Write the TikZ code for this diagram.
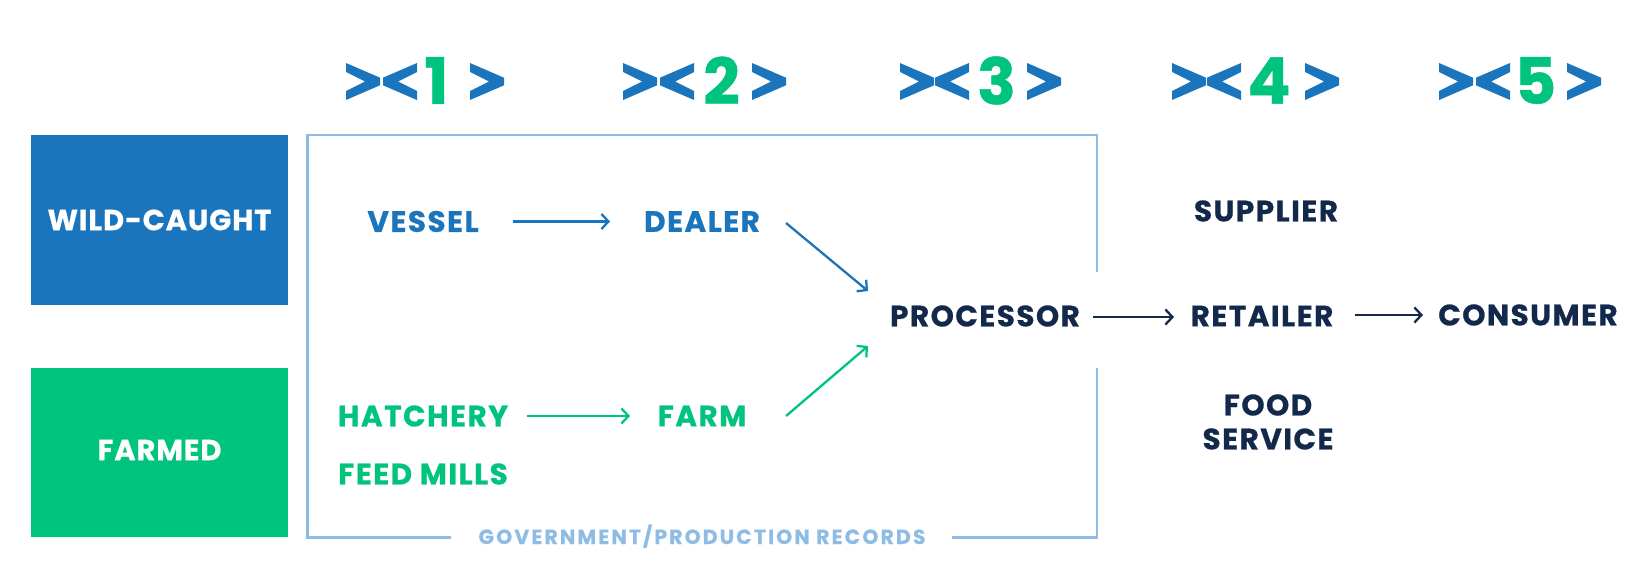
\documentclass[tikz,border=0pt]{standalone}
\usepackage{fontspec}
\setmainfont{Poppins}
\usetikzlibrary{arrows.meta}
\definecolor{wblue}{HTML}{1B75BC}
\definecolor{fgreen}{HTML}{00C37D}
\definecolor{navy}{HTML}{13294B}
\definecolor{framec}{HTML}{8FBCE4}
\newcommand{\gtchev}[2]{\fill[wblue] ({#1},{#2-18.5}) -- ({#1+34},{#2-3.8}) -- ({#1+34},{#2+3.8}) -- ({#1},{#2+18.5}) -- ({#1},{#2+9.5}) -- ({#1+19},{#2}) -- ({#1},{#2-9.5}) -- cycle;}
\newcommand{\ltchev}[2]{\fill[wblue] ({#1+34},{#2-18.5}) -- ({#1},{#2-3.8}) -- ({#1},{#2+3.8}) -- ({#1+34},{#2+18.5}) -- ({#1+34},{#2+9.5}) -- ({#1+15},{#2}) -- ({#1+34},{#2-9.5}) -- cycle;}
\newcommand{\heavyfont}{\bfseries\addfontfeatures{FakeBold=0.7, LetterSpace=5}}
\newcommand{\boxfont}{\bfseries\addfontfeatures{FakeBold=0.7, LetterSpace=3}}
\tikzset{
  lbl/.style={font=\heavyfont\fontsize{29.5pt}{34pt}\selectfont, inner sep=0pt, align=center},
  num/.style={font=\bfseries\addfontfeatures{FakeBold=0.7}\fontsize{64pt}{70pt}\selectfont, inner sep=0pt, text=fgreen},
  catbox/.style={font=\boxfont\fontsize{29pt}{34pt}\selectfont, inner sep=0pt, text=white, minimum width=257pt},
  arr/.style={line width=2.3pt, -{Straight Barb[length=7pt,width=15pt]}},
  framel/.style={draw=framec, line width=2.7pt},
  rec/.style={font=\bfseries\addfontfeatures{FakeBold=0.4, LetterSpace=10}\fontsize{20.5pt}{24pt}\selectfont, inner sep=0pt, text=framec, anchor=base}
}
\begin{document}
\begin{tikzpicture}[x=1pt,y=-1pt]
\useasboundingbox (0,0) rectangle (1646,583);
% header chevrons and numbers
\gtchev{346}{81.5}\ltchev{383}{81.5}\gtchev{470}{81.5}
\node[num] (h1) at (436.5,80.5) {1};
\gtchev{623}{81.5}\ltchev{660}{81.5}\gtchev{752}{81.5}
\node[num] (h2) at (721.5,80.5) {2};
\gtchev{900}{81.5}\ltchev{935}{81.5}\gtchev{1027}{81.5}
\node[num] (h3) at (996.5,80.5) {3};
\gtchev{1172}{81.5}\ltchev{1207}{81.5}\gtchev{1305}{81.5}
\node[num] (h4) at (1269,80.5) {4};
\gtchev{1439}{81.5}\ltchev{1476}{81.5}\gtchev{1567}{81.5}
\node[num] (h5) at (1535.5,80.5) {5};
% category boxes
\node[catbox, fill=wblue, minimum height=170pt] (wild) at (159.5,220) {WILD-CAUGHT};
\node[catbox, fill=fgreen, minimum height=169pt] (farmed) at (159.5,452.5) {\raisebox{5pt}{FARMED}};
% frame
\draw[framel] (451,537.5) -- (307.5,537.5) -- (307.5,135) -- (1097,135) -- (1097,272);
\draw[framel] (1097,368) -- (1097,537.5) -- (952,537.5);
\node[rec] (records) at (702,544) {GOVERNMENT/PRODUCTION RECORDS};
% stage labels
\node[lbl, text=wblue] (vessel) at (423,221.5) {VESSEL};
\node[lbl, text=wblue] (dealer) at (702,221.5) {DEALER};
\node[lbl, text=fgreen] (hatchery) at (423,416) {HATCHERY};
\node[lbl, text=fgreen] (farm) at (702,416) {FARM};
\node[lbl, text=fgreen] (feed) at (423,474) {FEED MILLS};
\node[lbl, text=navy] (processor) at (985,316) {PROCESSOR};
\node[lbl, text=navy] (supplier) at (1266,211) {SUPPLIER};
\node[lbl, text=navy] (retailer) at (1262,316) {RETAILER};
\node[lbl, text=navy] (consumer) at (1528,315) {CONSUMER};
\node[lbl, text=navy] (food) at (1268,422) {FOOD\\SERVICE};
% connectors
\draw[arr, wblue] ([xshift=90pt]vessel.center) -- ([xshift=-92pt]dealer.center);
\draw[arr, fgreen] ([xshift=104pt]hatchery.center) -- ([xshift=-72pt]farm.center);
\draw[arr, wblue] ([xshift=84pt,yshift=-1.5pt]dealer.center) -- ([xshift=-117pt,yshift=25pt]processor.center);
\draw[arr, fgreen] ([xshift=84pt]farm.center) -- ([xshift=-117pt,yshift=-30pt]processor.center);
\draw[arr, navy] ([xshift=108pt,yshift=-1pt]processor.center) -- ([xshift=-88pt,yshift=-1pt]retailer.center);
\draw[arr, navy] ([xshift=93pt,yshift=1pt]retailer.center) -- ([xshift=-105pt]consumer.center);
\end{tikzpicture}
\end{document}
